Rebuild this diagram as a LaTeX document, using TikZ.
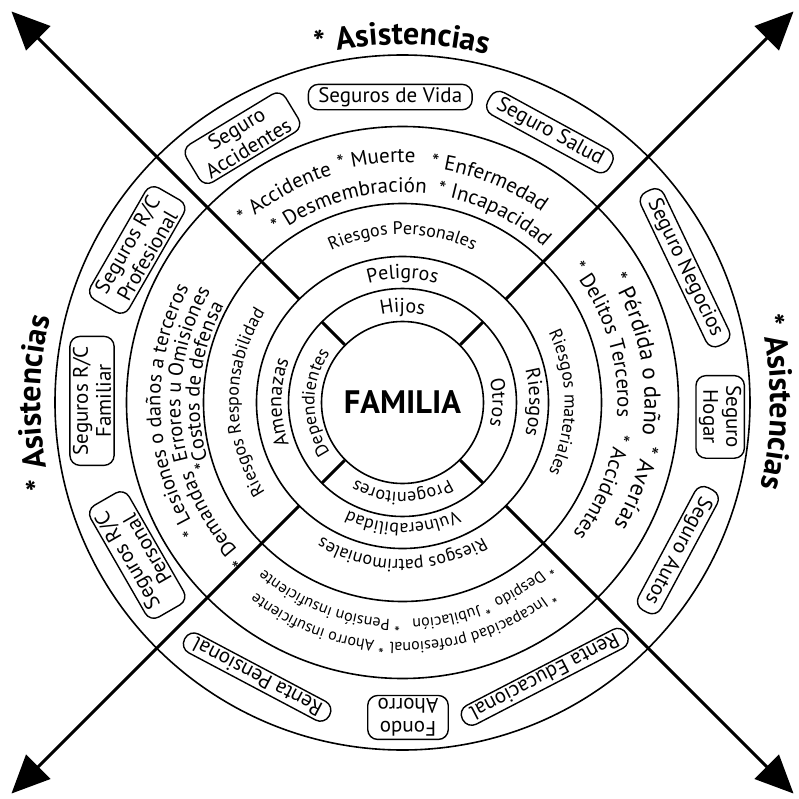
\documentclass[tikz,border=0pt]{standalone}
\usepackage{fontspec}
\setmainfont{PT Sans}
\usetikzlibrary{arrows.meta,decorations.text}

\newcommand\ftBox{\fontsize{21}{23}\selectfont}
\newcommand\ftDesc{\fontsize{21}{23}\selectfont}
\newcommand\ftBig{\fontsize{23}{25}\selectfont}
\newcommand\ftSide{\fontsize{20.5}{22}\selectfont}
\newcommand\ftLow{\fontsize{16}{18}\selectfont}
\newcommand\ftRing{\fontsize{18}{20}\selectfont}
\newcommand\ftMid{\fontsize{20}{22}\selectfont}
\newcommand\ftAsis{\fontsize{32}{34}\selectfont\bfseries}
\newcommand\ftFam{\fontsize{32.5}{34}\selectfont\bfseries}

\begin{document}
\begin{tikzpicture}[x=1pt,y=1pt,
    ring/.style={line width=1.6pt},
    axis/.style={line width=2.9pt,-{Triangle[length=38pt,width=34pt]}},
    sep/.style={line width=2.9pt},
    seguro/.style={draw,line width=1.4pt,rounded corners=10pt,align=center,
      font=\ftBox,inner xsep=10pt,inner ysep=3pt},
    arco/.style n args={4}{decorate,decoration={text along path,
      text align=center,text={|#3|#4}},
      insert path={(#1+70:#2) arc[start angle=#1+70,delta angle=-140,radius=#2]}}]
    \useasboundingbox (-402.5,-395.5) rectangle (396.5,402.5);

    % 円の描画
    \node[circle,draw,ring,minimum size=162pt,inner sep=0pt,font=\ftFam] (fam) at (0,0) {FAMILIA};
    \draw[ring] (0,0) circle[radius=114];
    \draw[ring] (0,0) circle[radius=146];
    \draw[ring] (0,0) circle[radius=199];
    \draw[ring] (0,0) circle[radius=276];
    \draw[ring] (0,0) circle[radius=347.5];

    % 矢印
    \coordinate (tipNE) at (45:553);
    \coordinate (tipNW) at (135:553);
    \coordinate (tipSW) at (225:553);
    \coordinate (tipSE) at (315:553);
    \draw[axis] (45:146) -- (tipNE);
    \draw[axis] (135:146) -- (tipNW);
    \draw[axis] (225:146) -- (tipSW);
    \draw[axis] (315:146) -- (tipSE);
    \draw[sep] (fam.45) -- (45:114);
    \draw[sep] (fam.135) -- (135:114);
    \draw[sep] (fam.225) -- (225:114);
    \draw[sep] (fam.315) -- (315:114);

    % 内側の輪
    \path[arco={90}{90}{\ftMid}{Hijos}];
    \path[arco={0}{90}{\ftMid}{Otros}];
    \path[arco={-90}{90}{\ftRing}{Progenitores}];
    \path[arco={180}{88}{\ftRing}{Dependientes}];
    \path[arco={90}{124}{\ftMid}{Peligros}];
    \path[arco={0}{127}{\ftMid}{Riesgos}];
    \path[arco={-90}{121}{\ftRing}{Vulnerabilidad}];
    \path[arco={180}{121}{\ftMid}{Amenazas}];
    \path[arco={90}{168}{\ftRing}{Riesgos Personales}];
    \path[arco={0}{162}{\ftRing}{Riesgos materiales}];
    \path[arco={-90}{157}{\ftRing}{Riesgos patrimoniales}];
    \path[arco={180}{164}{\ftRing}{Riesgos Responsabilidad}];

    % 危険
    \path[arco={119.3}{238}{\ftDesc}{* Accidente}];
    \path[arco={96.1}{240}{\ftDesc}{* Muerte}];
    \path[arco={68.5}{236}{\ftDesc}{* Enfermedad}];
    \path[arco={105}{210}{\ftDesc}{* Desmembración}];
    \path[arco={64.1}{210}{\ftDesc}{* Incapacidad}];
    \path[arco={11.5}{242}{\ftBig}{* Pérdida o daño}];
    \path[arco={-20}{244}{\ftBig}{* Averías}];
    \path[arco={17.3}{215}{\ftDesc}{* Delitos Terceros}];
    \path[arco={-23}{215}{\ftDesc}{* Accidentes}];
    \path[arco={-72.4}{240}{\ftLow}{* Incapacidad profesional}];
    \path[arco={-111}{240}{\ftLow}{* Ahorro insuficiente}];
    \path[arco={-56.6}{217}{\ftLow}{* Despido}];
    \path[arco={-77.2}{217}{\ftLow}{* Jubilación}];
    \path[arco={-110.2}{217}{\ftLow}{* Pensión insuficiente}];
    \path[arco={182}{242}{\ftSide}{* Lesiones o daños a terceros}];
    \path[arco={211.5}{221}{\ftSide}{* Demandas}];
    \path[arco={172.5}{222}{\ftSide}{Errores u Omisiones}];
    \path[arco={175}{203}{\ftSide}{*Costos de defensa}];

    % 保険
    \node[seguro] (sVida) at (92.3:305.7) {Seguros de Vida};
    \node[seguro,rotate=-28.6] (sSalud) at (61.4:308) {Seguro Salud};
    \node[seguro,rotate=31.2] (sAcc) at (121.2:309) {Seguro\\Accidentes};
    \node[seguro,rotate=-64.5] (sNeg) at (25.5:313) {Seguro Negocios};
    \node[seguro,rotate=-90] (sHogar) at (-2.6:318) {Seguro\\Hogar};
    \node[seguro,rotate=-118.2] (sAutos) at (-28.2:312.5) {Seguro Autos};
    \node[seguro,rotate=207.4] (rEdu) at (-62.6:309) {Renta Educacional};
    \node[seguro,rotate=180] (fAhorro) at (-89:315) {Fondo\\Ahorro};
    \node[seguro,rotate=152.1] (rPen) at (-117.9:310.7) {Renta Pensional};
    \node[seguro,rotate=119.9] (rcPer) at (209.9:306) {Seguros R/C\\Personal};
    \node[seguro,rotate=90] (rcFam) at (179.7:310.5) {Seguros R/C\\Familiar};
    \node[seguro,rotate=60.1] (rcPro) at (150.1:306) {Seguros R/C\\Profesional};

    % アシスタンス
    \path[arco={90}{358}{\ftAsis}{* Asistencias}];
    \path[arco={0}{368}{\ftAsis}{* Asistencias}];
    \path[arco={180}{362}{\ftAsis}{* Asistencias}];
\end{tikzpicture}
\end{document}
